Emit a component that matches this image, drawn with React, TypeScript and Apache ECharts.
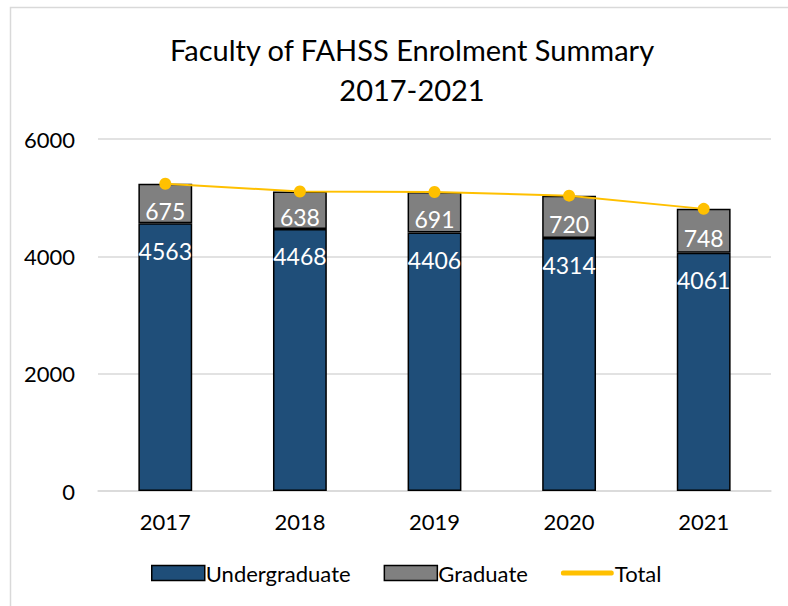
import React, { useEffect, useRef } from "react";
import * as echarts from "echarts";

const years = ["2017", "2018", "2019", "2020", "2021"];
const undergraduate = [4563, 4468, 4406, 4314, 4061];
const graduate = [675, 638, 691, 720, 748];
const total = [5238, 5106, 5097, 5034, 4809];
const yTicks = [0, 2000, 4000, 6000];

const FONT = "Lato";

export default function App() {
  const ref = useRef<HTMLDivElement>(null);
  useEffect(() => {
    const chart = echarts.init(ref.current!, undefined, { renderer: "svg" });
    chart.setOption({
      animation: false,
      backgroundColor: "#ffffff",
      textStyle: { fontFamily: FONT },
      title: {
        text: "Faculty of FAHSS Enrolment Summary\n2017-2021",
        left: 407,
        textAlign: "center",
        top: 24,
        textStyle: { fontFamily: FONT, fontSize: 29, fontWeight: "normal", color: "#000", lineHeight: 40 },
      },
      graphic: [
        {
          type: "rect",
          shape: { x: 10.5, y: 7.5, width: 800, height: 620 },
          style: { fill: "none", stroke: "#d9d9d9", lineWidth: 1.5 },
          silent: true,
          z: -1,
        },
      ],
      legend: {
        bottom: 17,
        left: 146,
        itemWidth: 53,
        itemHeight: 15,
        itemGap: 33,
        textStyle: { fontFamily: FONT, fontSize: 22, color: "#000", padding: [0, 0, 0, -4] },
        data: [
          { name: "Undergraduate", icon: "rect", itemStyle: { borderColor: "#000", borderWidth: 1.5 } },
          { name: "Graduate", icon: "rect", itemStyle: { borderColor: "#000", borderWidth: 1.5 } },
          {
            name: "Total",
            icon: "path://M0,0L0.01,0M0,15L0.01,15M2,5L51,5Q53,5 53,7.5Q53,10 51,10L2,10Q0,10 0,7.5Q0,5 2,5Z",
            itemStyle: { color: "#FFC000", borderWidth: 0 },
          },
        ],
      },
      grid: { left: 98, right: 17, top: 139, bottom: 115 },
      xAxis: {
        type: "category",
        data: years,
        axisLine: { lineStyle: { color: "#d9d9d9", width: 1.5 } },
        axisTick: { show: false },
        axisLabel: { fontFamily: FONT, fontSize: 22, color: "#000", margin: 19 },
      },
      yAxis: {
        type: "value",
        min: yTicks[0],
        max: yTicks[yTicks.length - 1],
        interval: 2000,
        axisLine: { show: false },
        axisTick: { show: false },
        splitLine: { lineStyle: { color: "#d9d9d9", width: 1.5 } },
        axisLabel: { fontFamily: FONT, fontSize: 22, color: "#000", margin: 23, formatter: (v: number) => String(v) },
      },
      series: [
        {
          name: "Undergraduate",
          type: "bar",
          stack: "s",
          data: undergraduate,
          barWidth: "40%",
          itemStyle: { color: "#1F4E79", borderColor: "#000", borderWidth: 1.5 },
          label: {
            show: true,
            position: "insideTop",
            distance: 16,
            color: "#fff",
            fontFamily: FONT,
            fontSize: 23,
          },
        },
        {
          name: "Graduate",
          type: "bar",
          stack: "s",
          data: graduate,
          itemStyle: { color: "#808080", borderColor: "#000", borderWidth: 1.5 },
          label: {
            show: true,
            position: "inside",
            offset: [0, 7],
            color: "#fff",
            fontFamily: FONT,
            fontSize: 23,
          },
        },
        {
          name: "Total",
          type: "line",
          data: total,
          symbol: "circle",
          symbolSize: 12,
          lineStyle: { color: "#FFC000", width: 2 },
          itemStyle: { color: "#FFC000" },
          z: 5,
        },
      ],
    });
    return () => chart.dispose();
  }, []);
  return (
    <div
      ref={ref}
      style={{ position: "absolute", left: 0, top: 0, width: 788, height: 606 }}
    />
  );
}
